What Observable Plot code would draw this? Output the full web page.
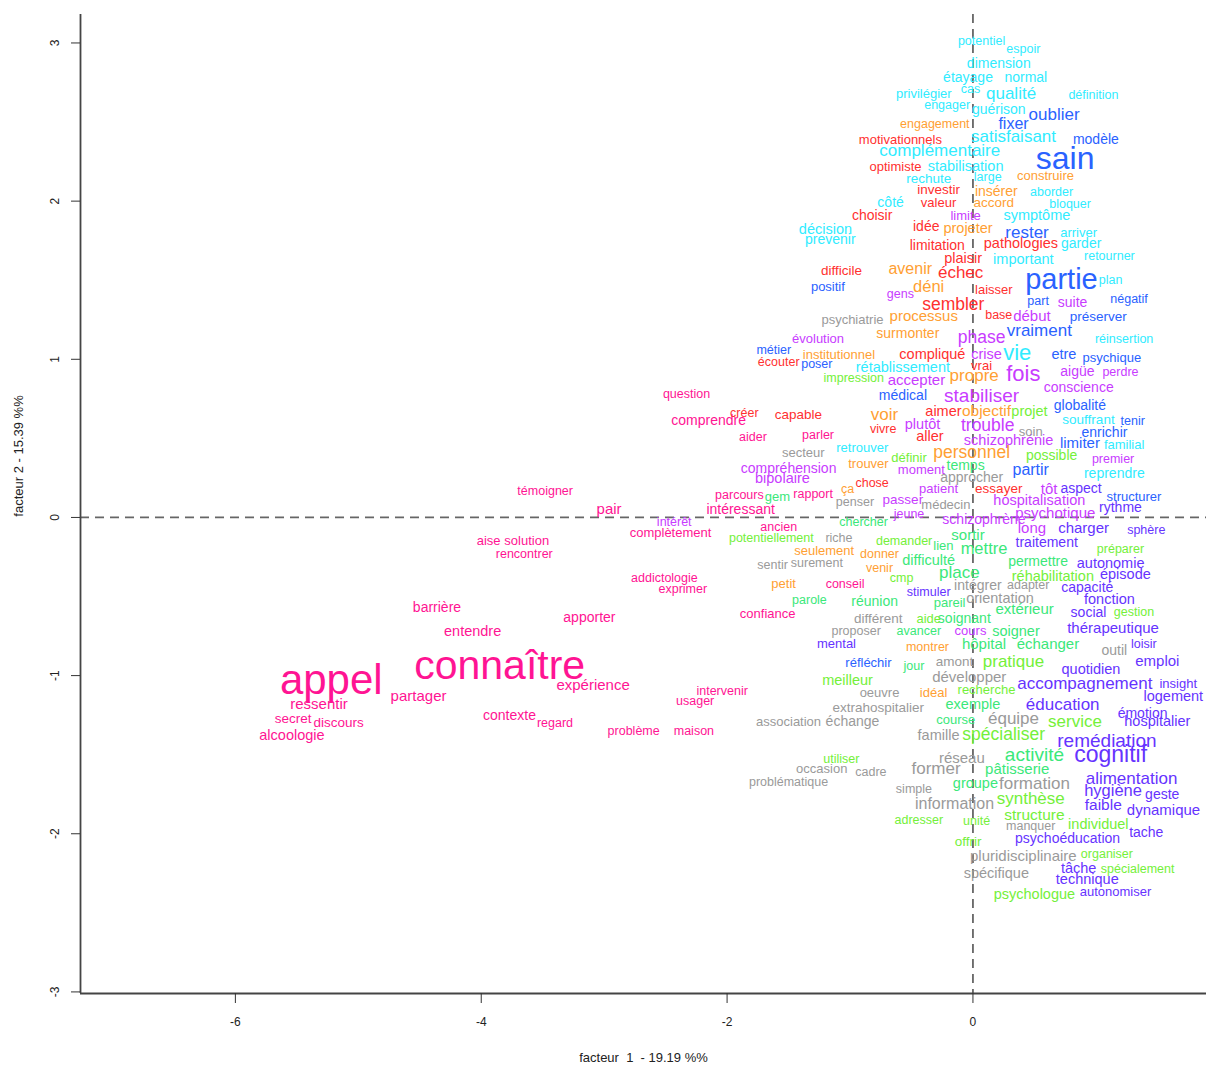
<!DOCTYPE html>
<html>
<head>
<meta charset="utf-8">
<script src="https://cdn.jsdelivr.net/npm/d3@7"></script>
<script src="https://cdn.jsdelivr.net/npm/@observablehq/plot@0.6"></script>
<style>
  html, body { margin: 0; padding: 0; background: #fff; }
  #chart svg { display: block; }
</style>
</head>
<body>
<div id="chart"></div>
<script>
// Axis labels and ticks
const xLabel = "facteur\u00a0 1\u00a0 - 19.19 %%";
const yLabel = "facteur 2 - 15.39 %%";
const xTicks = [-6, -4, -2, 0];
const yTicks = [-3, -2, -1, 0, 1, 2, 3];
const xDomain = [-7.26, 1.90];
const yDomain = [-3.01, 3.18];

// Classes (colour per class)
const classNames = ["pink", "red", "orange", "cyan", "blue", "violet", "indigo", "mint", "yellowgreen", "gray"];
const classColors = ["#ff1493", "#ff3030", "#ffa033", "#30ecff", "#2a62ff", "#c83cff", "#6633ff", "#3be87a", "#74f03a", "#9a9a9a"];

// Words per class: [word, factor1, factor2, score]
const pinkWords = [["question",-2.33,0.78,12.5],["comprendre",-2.15,0.61,14],["aider",-1.79,0.51,12.5],["parler",-1.26,0.52,12.5],["parcours",-1.90,0.14,12.5],["rapport",-1.30,0.15,12.5],["intéressant",-1.89,0.05,14],["ancien",-1.58,-0.06,12.5],["conseil",-1.04,-0.42,12.5],["confiance",-1.67,-0.61,13],["témoigner",-3.48,0.17,12.5],["pair",-2.96,0.05,15],["complètement",-2.46,-0.10,13],["aise",-3.94,-0.15,13],["solution",-3.63,-0.15,13],["rencontrer",-3.65,-0.23,12.5],["addictologie",-2.51,-0.38,12.5],["exprimer",-2.36,-0.45,12.5],["barrière",-4.36,-0.57,14],["apporter",-3.12,-0.63,14],["entendre",-4.07,-0.72,14.5],["connaître",-3.85,-0.94,41],["appel",-5.22,-1.03,42],["expérience",-3.09,-1.06,15],["partager",-4.51,-1.13,15],["ressentir",-5.32,-1.18,15],["secret",-5.53,-1.27,13.5],["discours",-5.16,-1.30,13.5],["contexte",-3.77,-1.25,14],["regard",-3.40,-1.30,12.5],["alcoologie",-5.54,-1.38,14.5],["problème",-2.76,-1.35,12.5],["maison",-2.27,-1.35,12.5],["usager",-2.26,-1.16,12.5],["intervenir",-2.04,-1.10,12.5]];
const redWords = [["motivationnels",-0.59,2.39,13],["optimiste",-0.63,2.22,13],["investir",-0.28,2.07,13.5],["valeur",-0.28,1.99,13],["choisir",-0.82,1.91,14],["idée",-0.38,1.84,14],["limitation",-0.29,1.72,14],["pathologies",0.39,1.73,14.5],["plaisir",-0.08,1.64,14.5],["difficile",-1.07,1.56,13.5],["échec",-0.10,1.55,17],["laisser",0.17,1.44,13],["sembler",-0.16,1.35,17.5],["base",0.21,1.28,12.5],["compliqué",-0.33,1.03,14.5],["écouter",-1.58,0.98,12.5],["vrai",0.07,0.96,13],["capable",-1.42,0.65,13.5],["créer",-1.86,0.66,12.5],["aimer",-0.24,0.67,14.5],["vivre",-0.73,0.56,12.5],["aller",-0.35,0.51,14.5],["chose",-0.82,0.22,12.5],["essayer",0.21,0.18,13.5]];
const orangeWords = [["engagement",-0.31,2.49,12.5],["construire",0.59,2.16,13],["insérer",0.19,2.06,14],["accord",0.17,1.99,13.5],["projeter",-0.04,1.83,14.5],["avenir",-0.51,1.57,16],["déni",-0.36,1.46,16.5],["processus",-0.40,1.27,15],["surmonter",-0.53,1.16,14],["institutionnel",-1.09,1.03,13],["propre",0.01,0.90,17],["voir",-0.72,0.65,17],["objectif",0.11,0.67,15.5],["personnel",-0.01,0.41,17.5],["trouver",-0.85,0.34,13],["ça",-1.02,0.18,12.5],["seulement",-1.21,-0.21,13],["donner",-0.76,-0.23,12.5],["venir",-0.76,-0.32,12.5],["petit",-1.54,-0.42,13],["montrer",-0.37,-0.82,12.5],["idéal",-0.32,-1.11,13]];
const cyanWords = [["potentiel",0.07,3.01,12.5],["espoir",0.41,2.96,12.5],["dimension",0.21,2.87,14],["étayage",-0.04,2.78,14],["normal",0.43,2.78,14],["privilégier",-0.40,2.68,13],["cas",-0.02,2.71,12.5],["qualité",0.31,2.68,17],["définition",0.98,2.67,12.5],["engager",-0.21,2.61,12.5],["guérison",0.21,2.58,14],["satisfaisant",0.33,2.41,17],["complémentaire",-0.27,2.32,17],["stabilisation",-0.06,2.22,14.5],["rechute",-0.36,2.14,13.5],["large",0.12,2.15,12.5],["aborder",0.64,2.06,12.5],["côté",-0.67,1.99,14],["bloquer",0.79,1.98,12.5],["symptôme",0.52,1.91,14.5],["décision",-1.20,1.82,14.5],["arriver",0.86,1.80,13],["prevenir",-1.16,1.76,14],["garder",0.88,1.73,14],["important",0.41,1.63,14.5],["retourner",1.11,1.65,12.5],["plan",1.12,1.50,12.5],["réinsertion",1.23,1.13,12.5],["vie",0.36,1.04,22],["rétablissement",-0.57,0.95,14.5],["souffrant",0.94,0.62,13.5],["familial",1.23,0.46,13],["retrouver",-0.90,0.44,13],["reprendre",1.15,0.28,14]];
const blueWords = [["oublier",0.66,2.55,17],["fixer",0.33,2.49,16],["modèle",1.00,2.39,14],["sain",0.75,2.27,32],["rester",0.44,1.80,17],["partie",0.72,1.50,29],["positif",-1.18,1.46,13],["part",0.53,1.37,12.5],["négatif",1.27,1.38,12.5],["préserver",1.02,1.27,13.5],["vraiment",0.54,1.18,17],["métier",-1.62,1.06,12.5],["etre",0.74,1.03,14.5],["psychique",1.13,1.01,13],["poser",-1.27,0.97,12.5],["médical",-0.57,0.77,14],["globalité",0.87,0.71,14],["tenir",1.30,0.61,12.5],["enrichir",1.07,0.54,14],["limiter",0.87,0.47,15],["partir",0.47,0.30,16],["structurer",1.31,0.13,13],["réfléchir",-0.85,-0.92,13]];
const violetWords = [["limite",-0.06,1.91,13],["gens",-0.59,1.41,12.5],["suite",0.81,1.36,14],["début",0.48,1.27,15],["phase",0.07,1.14,17.5],["évolution",-1.26,1.13,13],["crise",0.11,1.03,14.5],["fois",0.41,0.91,22],["aigüe",0.85,0.92,14],["perdre",1.20,0.92,12.5],["accepter",-0.46,0.87,15],["conscience",0.86,0.82,14],["stabiliser",0.07,0.77,19],["plutôt",-0.41,0.59,14.5],["trouble",0.12,0.58,17.5],["schizophrénie",0.29,0.49,14.5],["premier",1.14,0.37,12.5],["moment",-0.42,0.30,13],["compréhension",-1.50,0.31,14],["bipolaire",-1.55,0.25,14.5],["tôt",0.62,0.18,15],["patient",-0.28,0.18,13],["hospitalisation",0.54,0.11,14.5],["passer",-0.57,0.11,13.5],["psychotique",0.67,0.03,15],["jeune",-0.52,0.02,12.5],["schizophrène",0.09,-0.01,14],["long",0.48,-0.07,15],["intérêt",-2.43,-0.03,12.5],["cours",-0.02,-0.72,13]];
const indigoWords = [["aspect",0.88,0.18,14],["rythme",1.20,0.06,14],["charger",0.90,-0.07,15],["sphère",1.41,-0.08,12.5],["traitement",0.60,-0.16,14],["autonomie",1.12,-0.29,14.5],["épisode",1.24,-0.36,14.5],["capacité",0.93,-0.44,14],["stimuler",-0.36,-0.47,12.5],["fonction",1.11,-0.52,14.5],["social",0.94,-0.60,14],["thérapeutique",1.14,-0.70,15],["mental",-1.11,-0.80,13],["loisir",1.39,-0.80,12.5],["emploi",1.50,-0.91,15],["quotidien",0.96,-0.96,14.5],["accompagnement",0.91,-1.05,17],["insight",1.67,-1.05,13],["logement",1.63,-1.13,14.5],["éducation",0.73,-1.18,17],["émotion",1.38,-1.24,14],["hospitalier",1.50,-1.29,14.5],["remédiation",1.09,-1.41,19],["cognitif",1.12,-1.50,23],["alimentation",1.29,-1.65,17],["hygiène",1.14,-1.73,16.5],["geste",1.54,-1.75,14],["faible",1.06,-1.82,15.5],["dynamique",1.55,-1.85,15],["tache",1.41,-1.99,14],["psychoéducation",0.77,-2.03,14],["tâche",0.86,-2.22,14.5],["technique",0.93,-2.29,14.5],["autonomiser",1.16,-2.37,13]];
const mintWords = [["temps",-0.06,0.33,14],["gem",-1.59,0.13,13],["chercher",-0.89,-0.03,12.5],["sortir",-0.04,-0.11,15],["lien",-0.24,-0.18,13],["mettre",0.09,-0.20,16.5],["difficulté",-0.36,-0.27,14.5],["permettre",0.53,-0.28,14],["place",-0.11,-0.35,17],["parole",-1.33,-0.52,12.5],["réunion",-0.80,-0.53,14],["pareil",-0.19,-0.54,13],["extérieur",0.42,-0.58,15],["soignant",-0.07,-0.64,14],["avancer",-0.44,-0.72,12.5],["soigner",0.35,-0.72,14.5],["hôpital",0.09,-0.80,15],["échanger",0.61,-0.80,15],["jour",-0.48,-0.94,12.5],["exemple",0.00,-1.18,14.5],["course",-0.14,-1.28,13],["activité",0.50,-1.50,19],["pâtisserie",0.36,-1.59,15],["groupe",0.02,-1.68,14.5]];
const yellowgreenWords = [["impression",-0.97,0.88,12.5],["projet",0.46,0.67,14.5],["définir",-0.52,0.38,13],["possible",0.64,0.39,14],["potentiellement",-1.64,-0.13,12.5],["demander",-0.56,-0.15,12.5],["cmp",-0.58,-0.38,12.5],["réhabilitation",0.65,-0.37,14.5],["préparer",1.20,-0.20,12.5],["gestion",1.31,-0.60,12.5],["aide",-0.36,-0.64,13],["pratique",0.33,-0.91,17],["meilleur",-1.02,-1.03,14.5],["recherche",0.11,-1.09,13],["service",0.83,-1.29,17],["spécialiser",0.25,-1.37,17.5],["utiliser",-1.07,-1.53,12.5],["synthèse",0.47,-1.78,17],["adresser",-0.44,-1.91,12.5],["unité",0.03,-1.92,12.5],["structure",0.50,-1.88,15.5],["individuel",1.02,-1.94,14.5],["offrir",-0.04,-2.05,13.5],["organiser",1.09,-2.13,12.5],["spécialement",1.34,-2.22,12.5],["psychologue",0.50,-2.38,14.5]];
const grayWords = [["psychiatrie",-0.98,1.25,13],["soin",0.47,0.54,13],["secteur",-1.38,0.41,13],["approcher",-0.01,0.25,14],["penser",-0.96,0.10,12.5],["médecin",-0.22,0.08,13],["riche",-1.09,-0.13,12.5],["sentir",-1.63,-0.30,12.5],["surement",-1.27,-0.29,12.5],["intégrer",0.04,-0.43,14],["adapter",0.45,-0.43,12.5],["orientation",0.22,-0.51,14.5],["différent",-0.77,-0.64,13.5],["proposer",-0.95,-0.72,12.5],["outil",1.15,-0.84,14],["amont",-0.15,-0.91,13.5],["développer",-0.03,-1.01,15],["oeuvre",-0.76,-1.11,13],["extrahospitalier",-0.77,-1.20,13.5],["association",-1.50,-1.29,13],["échange",-0.98,-1.29,14],["équipe",0.33,-1.27,17],["famille",-0.28,-1.38,14.5],["réseau",-0.09,-1.52,15],["occasion",-1.23,-1.59,13],["cadre",-0.83,-1.61,12.5],["former",-0.30,-1.59,17],["problématique",-1.50,-1.67,12.5],["simple",-0.48,-1.72,12.5],["formation",0.50,-1.68,17],["information",-0.15,-1.81,16],["manquer",0.47,-1.95,12.5],["pluridisciplinaire",0.41,-2.14,15],["spécifique",0.19,-2.25,14.5]];

const classWords = [pinkWords, redWords, orangeWords, cyanWords, blueWords, violetWords, indigoWords, mintWords, yellowgreenWords, grayWords];

const rows = classWords.flatMap((list, i) =>
  list.map(([word, f1, f2, score]) => ({word, f1, f2, score, color: classColors[i], cls: classNames[i]}))
);

const chart = Plot.plot({
  width: 1206,
  height: 1066,
  marginLeft: 80,
  marginRight: 0,
  marginTop: 14,
  marginBottom: 73,
  x: {domain: xDomain},
  y: {domain: yDomain},
  color: {type: "identity"},
  style: {fontFamily: "'Liberation Sans', Arial, sans-serif", background: "#fff", color: "#222"},
  marks: [
    Plot.ruleY([0], {stroke: "#666", strokeWidth: 1.8, strokeDasharray: "9,6"}),
    Plot.ruleX([0], {stroke: "#666", strokeWidth: 1.8, strokeDasharray: "9,6"}),
    Plot.text(rows, {x: "f1", y: "f2", text: "word", fill: "color", fontSize: "score"}),
    Plot.ruleX([xDomain[0]], {stroke: "#444", strokeWidth: 1.8}),
    Plot.ruleY([yDomain[0]], {stroke: "#444", strokeWidth: 1.8}),
    Plot.axisX({ticks: xTicks, tickSize: 10, tickPadding: 14, tickFormat: d => String(d), fontSize: 12, label: null, stroke: "#333"}),
    Plot.axisY({ticks: yTicks, tickSize: 9, tickPadding: 13, tickRotate: -90, tickFormat: d => String(d), fontSize: 12, label: null, stroke: "#333"}),
    Plot.text([yLabel], {frameAnchor: "left", textAnchor: "middle", lineAnchor: "middle", dx: -62, dy: -48, rotate: -90, fontSize: 13, fill: "#222"}),
    Plot.text([xLabel], {frameAnchor: "bottom", textAnchor: "middle", lineAnchor: "middle", dy: 64, fontSize: 13, fill: "#222"})
  ]
});
document.getElementById("chart").appendChild(chart);
</script>
</body>
</html>
